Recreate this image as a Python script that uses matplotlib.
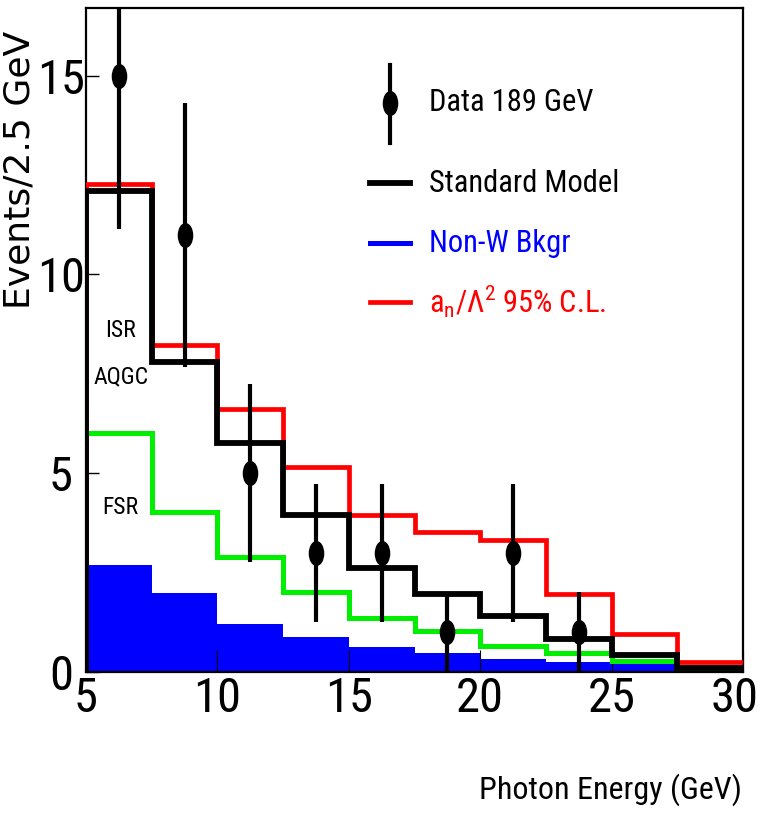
import numpy as np
import matplotlib
matplotlib.use("Agg")
import matplotlib.pyplot as plt
from matplotlib.path import Path
import matplotlib.transforms as mtransforms

# bin edges of the photon energy histogram (GeV)
edges = [5, 7.5, 10, 12.5, 15, 17.5, 20, 22.5, 25, 27.5, 30]

# Monte Carlo predictions, events per 2.5 GeV bin
standard_model = [12.1, 7.8, 5.75, 3.95, 2.62, 1.95, 1.4, 0.82, 0.42, 0.1]
non_w_bkgr = [2.68, 1.98, 1.2, 0.88, 0.64, 0.47, 0.32, 0.25, 0.22, 0.0]
fsr = [6.0, 4.02, 2.88, 2.0, 1.35, 1.03, 0.65, 0.48, 0.28, 0.05]
aqgc_limit = [12.27, 8.22, 6.62, 5.15, 3.95, 3.52, 3.33, 1.96, 0.95, 0.25]

# data points
data_x = [6.25, 8.75, 11.25, 13.75, 16.25, 18.75, 21.25, 23.75]
data_y = [15, 11, 5, 3, 3, 1, 3, 1]
data_err = [3.87, 3.32, 2.24, 1.73, 1.73, 1.0, 1.73, 1.0]

narrow = ['Roboto Condensed', 'Liberation Sans Narrow', 'Liberation Sans', 'DejaVu Sans']
plt.rcParams['font.family'] = narrow
plt.rcParams['mathtext.fontset'] = 'custom'
plt.rcParams['mathtext.rm'] = 'Roboto Condensed'
plt.rcParams['mathtext.it'] = 'Roboto Condensed'

fig = plt.figure(figsize=(7.6, 8.16), dpi=100)
ax = fig.add_axes([86 / 760, 1 - 672 / 816, 657 / 760, 664 / 816])

ax.stairs(non_w_bkgr, edges, fill=True, color='blue', zorder=1)
ax.stairs(fsr, edges, color='#00ee00', linewidth=3.6, zorder=2)
ax.stairs(aqgc_limit, edges, color='red', linewidth=3.4, zorder=3)
ax.stairs(standard_model, edges, color='black', linewidth=4.2, zorder=4)

# ellipse shaped marker like the original
ellipse = Path.unit_circle().transformed(mtransforms.Affine2D().scale(0.6, 1.0))
ax.errorbar(data_x, data_y, yerr=data_err, fmt='none', ecolor='black',
            elinewidth=3.0, capsize=0, zorder=5)
ax.plot(data_x, data_y, linestyle='none', marker=ellipse, markersize=17,
        color='black', zorder=6)

ax.set_xlim(5, 30)
ax.set_ylim(0, 16.7)
ax.set_xticks([5, 10, 15, 20, 25, 30])
ax.set_yticks([0, 5, 10, 15])
ax.tick_params(axis='x', direction='in', length=16, width=0.8, labelsize=35, pad=3)
ax.tick_params(axis='y', direction='in', length=9.5, width=1.0, labelsize=35, pad=18)
for lab in ax.get_yticklabels():
    lab.set_horizontalalignment('center')
# keep the "30" inside the picture
last = ax.get_xticklabels()[-1]
last.set_transform(last.get_transform() + mtransforms.ScaledTranslation(-8 / 100, 0, fig.dpi_scale_trans))
for sp in ax.spines.values():
    sp.set_linewidth(1.6)

# hand made legend
T = ax.transAxes
ax.plot([0.463, 0.463], [0.797, 0.914], color='black', linewidth=3.0, transform=T, clip_on=False)
ax.plot([0.463], [0.857], marker=ellipse, markersize=17, color='black', transform=T)
ax.text(0.522, 0.857, 'Data 189 GeV', fontsize=22, va='center', transform=T)
ax.plot([0.432, 0.493], [0.736, 0.736], color='black', linewidth=4.2, transform=T)
ax.text(0.522, 0.736, 'Standard Model', fontsize=22, va='center', transform=T)
ax.plot([0.432, 0.493], [0.646, 0.646], color='blue', linewidth=3.6, transform=T)
ax.text(0.522, 0.646, 'Non-W Bkgr', fontsize=22, va='center', color='blue', transform=T)
ax.plot([0.432, 0.493], [0.557, 0.557], color='red', linewidth=3.4, transform=T)
ax.text(0.522, 0.557, r'$\mathrm{a_n/\Lambda^2}$ 95% C.L.', fontsize=22, va='center',
        color='red', transform=T)

ax.text(0.053, 0.515, 'ISR', fontsize=17, ha='center', va='center', transform=T)
ax.text(0.053, 0.444, 'AQGC', fontsize=17, ha='center', va='center', transform=T)
ax.text(0.052, 0.248, 'FSR', fontsize=17, ha='center', va='center', transform=T)

fig.text(742 / 760, 1 - 790 / 816, 'Photon Energy (GeV)', fontsize=23,
         ha='right', va='center')
fig.text(20 / 760, 1 - 170 / 816, 'Events/2.5 GeV', fontsize=26, rotation=90,
         ha='center', va='center', family=['DejaVu Sans'])

fig.savefig('out.png', dpi=100)
